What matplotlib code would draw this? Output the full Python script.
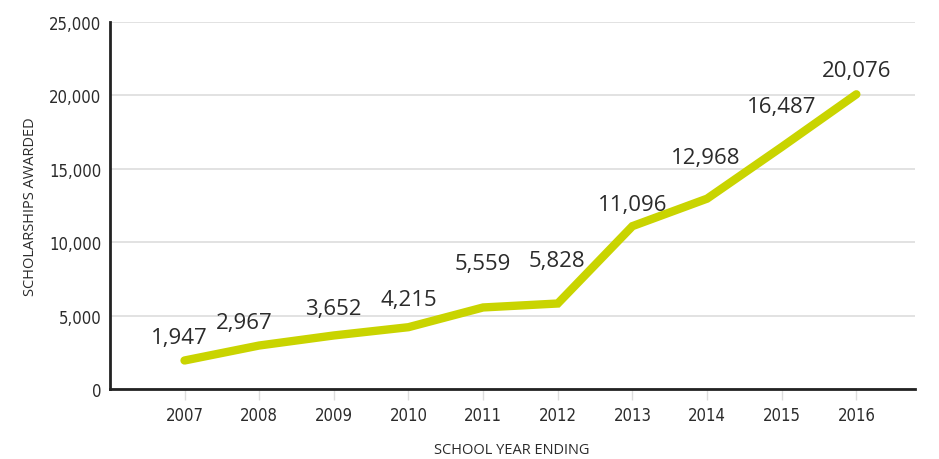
import matplotlib.pyplot as plt
from matplotlib.ticker import FuncFormatter

# dados
anos = [2007, 2008, 2009, 2010, 2011, 2012, 2013, 2014, 2015, 2016]
bolsas = [1947, 2967, 3652, 4215, 5559, 5828, 11096, 12968, 16487, 20076]

# deslocamento dos rotulos (pixels)
rotulo_dx = [-5, -15, 0, 0, 0, -1, 0, -1, 0, 0]
rotulo_dy = [23, 23, 27, 28, 44, 43, 22, 41, 40, 24]

cor_linha = '#c9d400'
cor_texto = '#2b2b2b'

fig = plt.figure(figsize=(9.39, 4.6), dpi=100)
ax = fig.add_axes([0.117, 0.152, 0.857, 0.798])

ax.plot(anos, bolsas, color=cor_linha, linewidth=6, solid_capstyle='round',
        solid_joinstyle='miter', zorder=3)

for x, y, dx, dy in zip(anos, bolsas, rotulo_dx, rotulo_dy):
    ax.annotate('{:,}'.format(y), (x, y), xytext=(dx, dy), textcoords='offset pixels',
                ha='center', va='center', fontsize=16, color=cor_texto,
                family=['Open Sans', 'DejaVu Sans'])

ax.set_xlim(2006.0, 2016.78)
ax.set_ylim(0, 25000)
ax.set_xticks(anos)
ax.set_yticks(range(0, 25001, 5000))
ax.yaxis.set_major_formatter(FuncFormatter(lambda v, p: '{:,}'.format(int(v))))

ax.grid(axis='y', color='#dddddd', linewidth=1.2, zorder=0)
ax.set_axisbelow(True)

for lado in ['top', 'right']:
    ax.spines[lado].set_visible(False)
for lado in ['left', 'bottom']:
    ax.spines[lado].set_linewidth(2)
    ax.spines[lado].set_color('#222222')

ax.tick_params(axis='y', length=0, pad=6)
ax.tick_params(axis='x', length=8, width=1, color='#dddddd', pad=4)
for lbl in ax.get_xticklabels() + ax.get_yticklabels():
    lbl.set_family('DejaVu Sans')
    lbl.set_stretch('condensed')
    lbl.set_fontsize(12)
    lbl.set_color(cor_texto)

ax.set_xlabel('SCHOOL YEAR ENDING', fontsize=10.5, color=cor_texto, labelpad=13,
              family=['Open Sans', 'DejaVu Sans'])
ax.set_ylabel('SCHOLARSHIPS AWARDED', fontsize=10.5, color=cor_texto, labelpad=8,
              family=['Open Sans', 'DejaVu Sans'])

fig.savefig('out.png', dpi=100)
